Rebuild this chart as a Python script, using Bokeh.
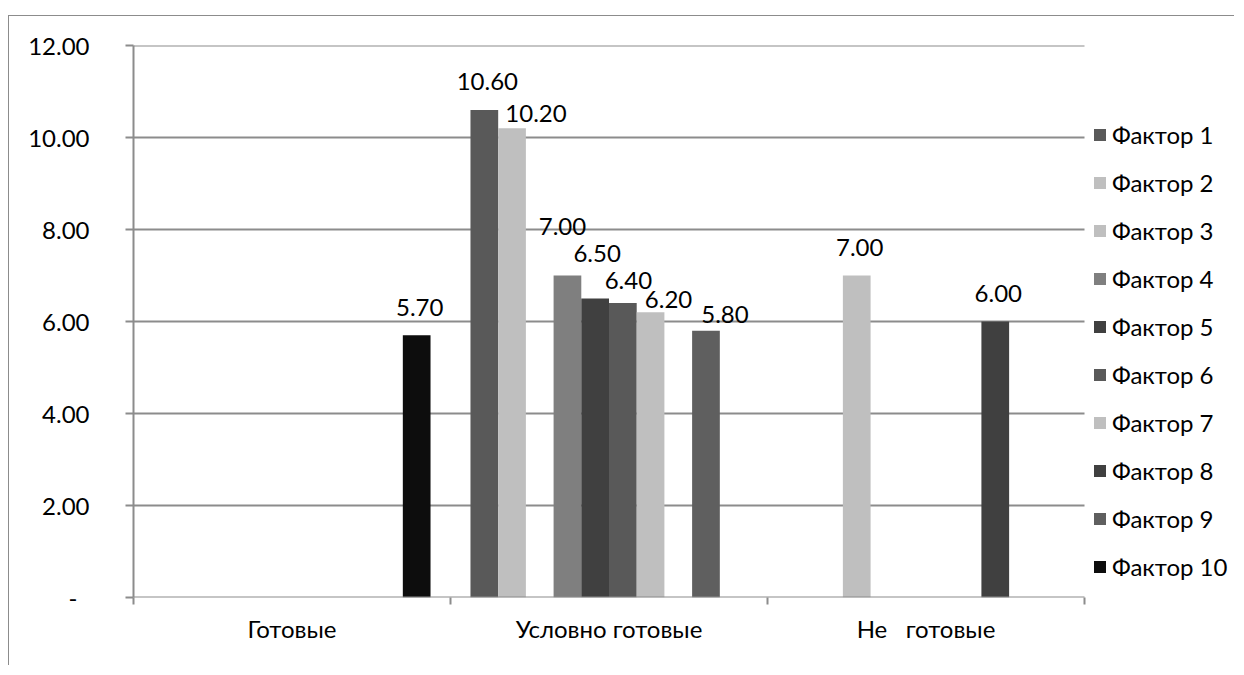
from bokeh.plotting import figure
from bokeh.models import Range1d, FixedTicker, ColumnDataSource, Legend, LegendItem
from bokeh.transform import dodge
from bokeh.core.properties import value
from bokeh.embed import file_html
from bokeh.resources import INLINE

# ---------------- data ----------------
categories = ["Готовые", "Условно готовые", "Не   готовые"]
factors = ["Фактор 1", "Фактор 2", "Фактор 3", "Фактор 4", "Фактор 5",
           "Фактор 6", "Фактор 7", "Фактор 8", "Фактор 9", "Фактор 10"]
f1 = [None, 10.6, None]
f2 = [None, 10.2, None]
f3 = [None, None, 7.0]
f4 = [None, 7.0, None]
f5 = [None, 6.5, None]
f6 = [None, 6.4, None]
f7 = [None, 6.2, None]
f8 = [None, None, 6.0]
f9 = [None, 5.8, None]
f10 = [5.7, None, None]
series = [f1, f2, f3, f4, f5, f6, f7, f8, f9, f10]
y_ticks = [0, 2, 4, 6, 8, 10, 12]

# ---------------- style / layout ----------------
colors = ["#595959", "#bfbfbf", "#bfbfbf", "#7f7f7f", "#404040",
          "#595959", "#bfbfbf", "#404040", "#5f5f5f", "#0d0d0d"]
FONT = "Lato"
FS = "24px"
GRAY = "#8c8c8c"
BAR_W = 0.0874
FIG_W, FIG_H = 1226, 650
BORDER_L = 124
PX_PER_CAT = 317          # category width in pixels
BASELINE_FIX = 9          # extra lift of value labels (px)
# manual label nudges (px): (factor index, category index) -> (dx, gap above bar)
label_nudge = {(1, 1): (24, 6), (3, 1): (-5, 40), (4, 1): (2, 36),
               (5, 1): (5.5, 14), (6, 1): (18, 4), (8, 1): (19, 7)}
default_nudge = (3, 19)

n_cat = len(categories)
x_end = (FIG_W - BORDER_L) / PX_PER_CAT   # frame extends under the legend

p = figure(width=FIG_W, height=FIG_H, output_backend="svg", toolbar_location=None,
           x_range=Range1d(0, x_end), y_range=Range1d(0, y_ticks[-1]),
           min_border_left=BORDER_L, min_border_right=0, min_border_top=29,
           min_border_bottom=69)
p.styles = {"margin-top": "15px", "margin-left": "8px",
            "border-top": "1px solid #8c8c8c",
            "border-left": "1px solid #8c8c8c"}
p.outline_line_color = None
p.background_fill_color = "white"
p.xgrid.visible = False
p.ygrid.visible = False

# horizontal gridlines over the category span only
p.segment(x0=0, x1=n_cat, y0=y_ticks[1:], y1=y_ticks[1:],
          line_color=GRAY, line_width=2)

items = []
for i, vals in enumerate(series):
    xs, tops, labels, dxs, dys = [], [], [], [], []
    for c, v in enumerate(vals):
        if v is None:
            continue
        xs.append(c + 0.5)
        tops.append(v)
        labels.append(f"{v:.2f}")
        dx, gap = label_nudge.get((i, c), default_nudge)
        dxs.append(dx)
        dys.append(-(gap + BASELINE_FIX))
    src = ColumnDataSource(dict(x=xs, top=tops, label=labels, dx=dxs, dy=dys))
    off = (i - 4.5) * BAR_W
    r = p.vbar(x=dodge("x", off), top="top", bottom=0, width=BAR_W, source=src,
               fill_color=colors[i], line_color=None)
    p.text(x=dodge("x", off), y="top", text="label", source=src,
           x_offset="dx", y_offset="dy", text_align="center",
           text_baseline="alphabetic", text_font=value(FONT),
           text_font_size=value(FS), text_color="#000000")
    items.append(LegendItem(label=factors[i], renderers=[r]))

# category axis line (only across the categories)
p.segment(x0=0, x1=n_cat, y0=y_ticks[0], y1=y_ticks[0],
          line_color=GRAY, line_width=2)

legend = Legend(items=items, location=(959, 16), orientation="vertical",
                glyph_width=15, glyph_height=15, label_height=30, spacing=18,
                padding=0, margin=0, border_line_color=None,
                background_fill_alpha=0, label_standoff=5,
                label_text_font=FONT, label_text_font_size=FS,
                label_text_color="#000000")
p.add_layout(legend)

# y axis
ya = p.yaxis[0]
ya.ticker = FixedTicker(ticks=y_ticks)
ya.major_label_overrides = {t: (f"{t:.2f}" if t else "-\u2002") for t in y_ticks}
ya.axis_line_color = GRAY
ya.axis_line_width = 2
ya.major_tick_line_color = GRAY
ya.major_tick_line_width = 2
ya.major_tick_out = 8
ya.major_tick_in = 0
ya.minor_tick_line_color = None
ya.major_label_standoff = 36
ya.major_label_text_font = FONT
ya.major_label_text_font_size = FS
ya.major_label_text_color = "#000000"

# x axis: labels at category centres, ticks at category boundaries
xa = p.xaxis[0]
centres = [c + 0.5 for c in range(n_cat)]
bounds = list(range(n_cat + 1))
xa.ticker = FixedTicker(ticks=centres, minor_ticks=bounds)
xa.major_label_overrides = {c + 0.5: name.replace(" ", "\u00a0")
                            for c, name in enumerate(categories)}
xa.axis_line_color = None
xa.major_tick_line_color = None
xa.major_tick_out = 0
xa.major_tick_in = 0
xa.minor_tick_line_color = GRAY
xa.minor_tick_line_width = 2
xa.minor_tick_out = 7
xa.minor_tick_in = 0
xa.major_label_standoff = 9
xa.major_label_text_font = FONT
xa.major_label_text_font_size = FS
xa.major_label_text_color = "#000000"

open("out.html", "w").write(file_html(p, INLINE))
